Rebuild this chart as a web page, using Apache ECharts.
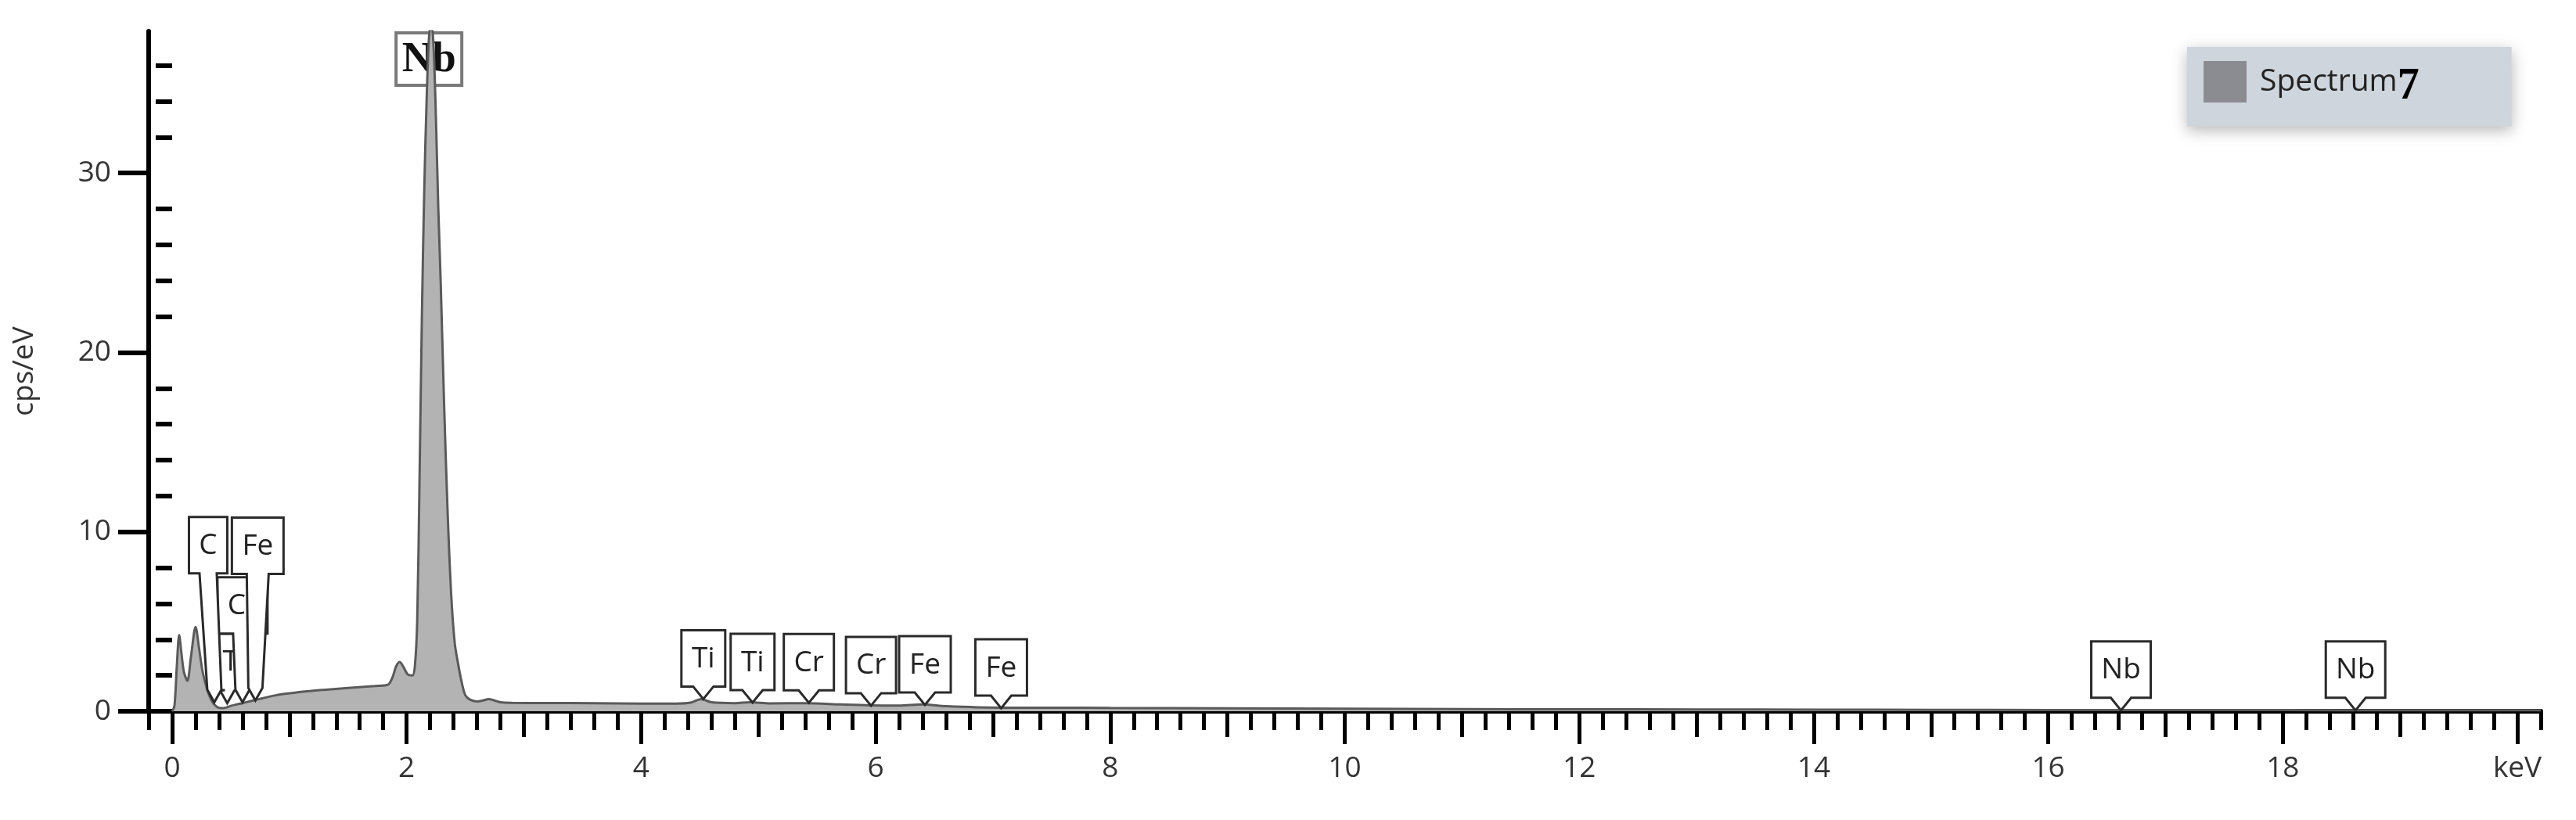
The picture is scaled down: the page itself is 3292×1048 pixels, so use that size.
<!DOCTYPE html>
<html>
<head>
<meta charset="utf-8">
<script src="https://cdn.jsdelivr.net/npm/echarts@6/dist/echarts.min.js"></script>
<style>
html,body{margin:0;padding:0;background:#fff;}
#chart{width:3292px;height:1048px;}
</style>
</head>
<body>
<div id="chart"></div>
<script>
// ---------- data ----------
const energyKeV = [0.00,0.02,0.04,0.06,0.08,0.10,0.13,0.16,0.20,0.23,0.26,0.30,0.34,0.38,0.42,0.46,0.50,0.55,0.60,0.69,0.77,0.89,1.00,1.10,1.29,1.50,1.73,1.84,1.88,1.91,1.94,1.97,2.01,2.05,2.07,2.09,2.11,2.13,2.15,2.17,2.19,2.21,2.23,2.25,2.27,2.29,2.32,2.35,2.38,2.41,2.44,2.47,2.50,2.54,2.60,2.65,2.70,2.74,2.80,2.90,3.20,3.60,4.00,4.30,4.42,4.51,4.60,4.80,4.93,5.10,5.41,5.70,5.95,6.20,6.40,6.60,7.06,7.50,8.00,9.00,10.0,11.0,12.0,13.0,14.0,15.0,16.0,17.0,18.0,19.0,20.0,20.2];
const cpsPerEV = [0.00,0.30,2.50,4.25,3.20,2.20,1.70,3.00,4.70,3.50,2.20,1.20,0.55,0.25,0.17,0.20,0.30,0.38,0.45,0.60,0.72,0.90,1.00,1.08,1.19,1.30,1.41,1.48,1.90,2.50,2.75,2.50,2.05,2.00,2.50,5.00,13.0,22.0,29.0,34.0,37.5,38.5,37.0,33.0,28.0,24.0,17.0,11.0,6.50,3.80,2.60,1.60,0.90,0.65,0.55,0.60,0.68,0.62,0.50,0.47,0.46,0.45,0.43,0.43,0.48,0.68,0.50,0.45,0.50,0.44,0.45,0.38,0.33,0.32,0.38,0.28,0.20,0.20,0.18,0.16,0.14,0.12,0.11,0.10,0.09,0.08,0.07,0.065,0.06,0.05,0.05,0.05];

const elementNames   = ['Ti','Cr','C','Fe','Ti','Ti','Cr','Cr','Fe','Fe','Nb','Nb'];
const elementKeV     = [0.47,0.60,0.36,0.71,4.53,4.95,5.43,5.96,6.42,7.07,16.62,18.62];
const elementTipCps  = [0.45,0.50,0.50,0.60,0.68,0.48,0.47,0.31,0.35,0.17,0.05,0.05];

const topLabelName = 'Nb';
const topLabelKeV = 2.19;

const xMajorTicks = [0,2,4,6,8,10,12,14,16,18,20];
const xMidTicks = [1,3,5,7,9,11,13,15,17,19];
const yMajorTicks = [0,10,20,30];
const xUnitLabel = 'keV';
const yName = 'cps/eV';
const seriesName = 'Spectrum';
const seriesSuffix = '7';

// ---------- layout (positions for the stacked low-energy callouts) ----------
const calloutLayout = [
  {boxKeV:0.53, boxTop:4.32, neck:12},
  {boxKeV:0.60, boxTop:7.47, neck:12},
  {boxKeV:0.307, boxTop:10.83, neck:11},
  {boxKeV:0.73, boxTop:10.79, neck:14},
  null,null,null,null,null,null,null,null
];

const FONT = '"Open Sans", "DejaVu Sans", sans-serif';
const FS = 37;
const yMinorTicks = [];
for (let v = 2; v < 37; v += 2) if (v % 10 !== 0) yMinorTicks.push(v);

const ctx = document.createElement('canvas').getContext('2d');
ctx.font = FS + 'px ' + FONT;
function tw(t){ return ctx.measureText(t).width; }

const spectrum = energyKeV.map((e,i)=>[e, cpsPerEV[i]]);
const callouts = elementKeV.map((e,i)=>[e, elementTipCps[i]]);

function renderCallout(params, api){
  const i = params.dataIndex;
  const name = elementNames[i];
  const lay = calloutLayout[i];
  const tip = api.coord([api.value(0), api.value(1)]);
  const W = Math.round(tw(name) + 26), H = 72, P = 16, NECK = 13;
  const cx = lay ? api.coord([lay.boxKeV, 0])[0] : tip[0];
  const top = lay ? api.coord([0, lay.boxTop])[1] : tip[1] - P - H;
  const bot = top + H;
  const nk = lay ? lay.neck : NECK;
  const bn = lay ? 9 : NECK;
  const pts = [
    [cx - W/2, top], [cx + W/2, top], [cx + W/2, bot],
    [cx + nk, bot], [tip[0] + bn, tip[1] - P], [tip[0], tip[1]], [tip[0] - bn, tip[1] - P], [cx - nk, bot],
    [cx - W/2, bot]
  ];
  return {
    type:'group',
    children:[
      {type:'polygon', shape:{points:pts}, style:{fill:'#fff', stroke:'#2a2a2a', lineWidth:3, lineJoin:'miter'}},
      {type:'text', style:{text:name, x:cx, y:top + H/2 + 1, align:'center', verticalAlign:'middle', font: FS + 'px ' + FONT, fill:'#222'}}
    ]
  };
}

function renderTopLabel(params, api){
  const p = api.coord([api.value(0), api.value(1)]);
  const W = 84, H = 67;
  return {
    type:'group',
    children:[
      {type:'rect', shape:{x:p[0]-W/2, y:p[1]+2, width:W, height:H}, style:{fill:'#fff', stroke:'#7a7a7a', lineWidth:4}},
      {type:'text', style:{text:topLabelName, x:p[0], y:p[1]+2+H/2+2, align:'center', verticalAlign:'middle', font:'bold 54px "Liberation Serif", serif', fill:'#111'}}
    ]
  };
}

const chart = echarts.init(document.getElementById('chart'), null, {renderer:'canvas'});
const baseX = {type:'value', min:-0.2, max:20.2, position:'bottom', splitLine:{show:false}};
chart.setOption({
  animation:false,
  backgroundColor:'#fff',
  grid:{left:190, right:45, top:40, bottom:139},
  legend:{
    data:[{name:seriesName, icon:'rect'}],
    left:2795, top:60,
    itemWidth:55, itemHeight:53,
    padding:[18,118,22,21],
    backgroundColor:'#cfd5dc',
    shadowBlur:18, shadowColor:'rgba(0,0,0,0.28)', shadowOffsetY:5,
    formatter: n => n + '{s|' + seriesSuffix + '}',
    textStyle:{fontFamily:FONT, fontSize:39, color:'#222', padding:[0,0,0,12],
      rich:{s:{fontFamily:'"Liberation Serif", serif', fontWeight:'bold', fontSize:56, color:'#000', padding:[14,0,0,0]}}},
    itemStyle:{color:'#8a8c92'}
  },
  xAxis:[
    Object.assign({}, baseX, {
      axisLine:{show:true, onZero:false, lineStyle:{color:'#000', width:6}},
      axisTick:{show:true, customValues:xMajorTicks, length:42, lineStyle:{color:'#000', width:5}},
      axisLabel:{customValues:xMajorTicks, margin:55, fontFamily:FONT, fontSize:FS, color:'#333',
        formatter: v => (v === 20 ? xUnitLabel : String(v))}
    }),
    Object.assign({}, baseX, {
      axisLine:{show:false}, axisLabel:{show:false},
      axisTick:{show:true, customValues:xMidTicks, length:33, lineStyle:{color:'#000', width:5}}
    }),
    Object.assign({}, baseX, {
      interval:0.2,
      axisLine:{show:false}, axisLabel:{show:false},
      axisTick:{show:true, length:24, lineStyle:{color:'#000', width:5}}
    })
  ],
  yAxis:[
    {type:'value', min:0, max:37.9, interval:10, splitLine:{show:false},
      name:yName, nameLocation:'middle', nameRotate:90, nameGap:140,
      nameTextStyle:{fontFamily:FONT, fontSize:FS, color:'#333'},
      axisLine:{show:true, onZero:false, lineStyle:{color:'#000', width:6}},
      axisTick:{show:true, customValues:yMajorTicks, length:39, lineStyle:{color:'#000', width:6}},
      axisLabel:{customValues:yMajorTicks, margin:48, fontFamily:FONT, fontSize:FS, color:'#333'}
    },
    {type:'value', min:0, max:37.9, position:'left', splitLine:{show:false},
      axisLine:{show:false}, axisLabel:{show:false},
      axisTick:{show:true, customValues:yMinorTicks, length:21, lineStyle:{color:'#000', width:6}}
    }
  ],
  series:[
    {
      type:'custom', name:'topLabel', xAxisIndex:0, yAxisIndex:0, z:1, clip:false,
      renderItem:renderTopLabel, data:[[topLabelKeV, 37.9]], silent:true
    },
    {
      type:'line', name:seriesName, xAxisIndex:0, yAxisIndex:0, z:2,
      data:spectrum, showSymbol:false, smooth:0.3,
      lineStyle:{color:'#5a5a5a', width:3},
      areaStyle:{color:'#b3b3b3', opacity:1},
      itemStyle:{color:'#8a8c92'}
    },
    {
      type:'custom', name:'lines', xAxisIndex:0, yAxisIndex:0, z:5, clip:false,
      renderItem:renderCallout, data:callouts, silent:true
    }
  ]
});
</script>
</body>
</html>
